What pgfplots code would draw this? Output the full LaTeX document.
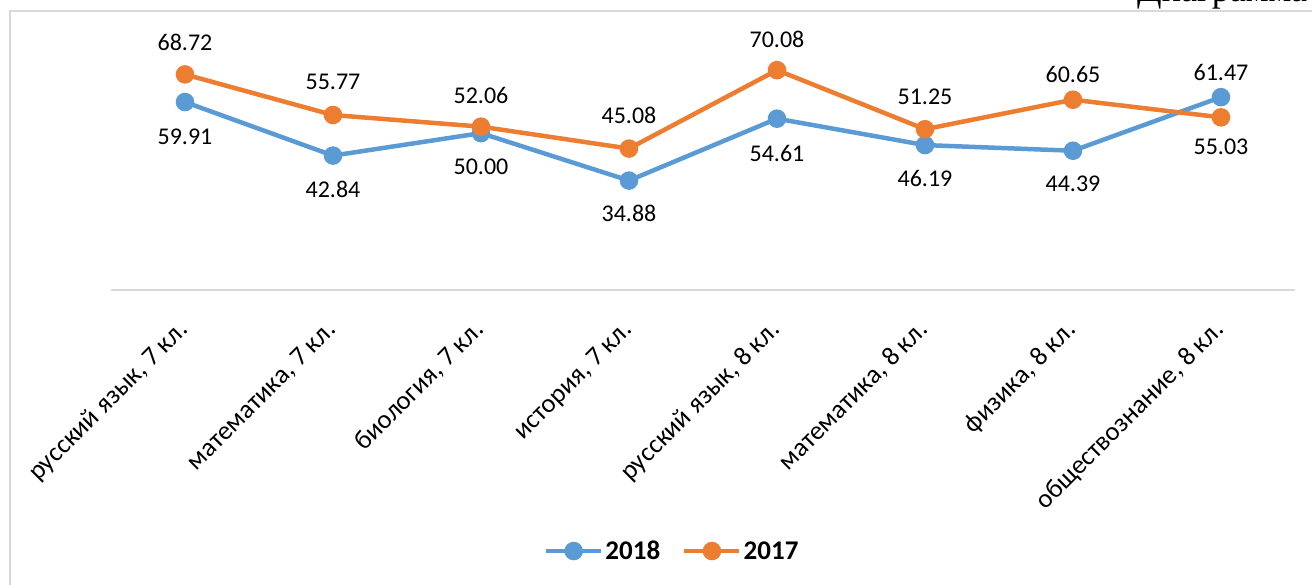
\documentclass[border=0pt]{standalone}
\usepackage{fontspec}
\setmainfont{Carlito}
\newfontfamily\titlefont{Liberation Serif}
\usepackage{pgfplots}
\usepackage{pgfplotstable}
\pgfplotsset{compat=1.18}
\definecolor{sblue}{HTML}{5B9BD5}
\definecolor{sorange}{HTML}{ED7D31}
\definecolor{framegray}{HTML}{D9D9D9}

\pgfplotstableread{
x y lab off
0 59.91 59.91 -35
1 42.84 42.84 -34
2 50.00 50.00 -34
3 34.88 34.88 -33
4 54.61 54.61 -35
5 46.19 46.19 -33
6 44.39 44.39 -33
7 61.47 61.47 25
}\dataA
\pgfplotstableread{
x y lab off
0 68.72 68.72 32
1 55.77 55.77 33
2 52.06 52.06 31
3 45.08 45.08 33
4 70.08 70.08 31
5 51.25 51.25 32
6 60.65 60.65 25
7 55.03 55.03 -29
}\dataB

\begin{document}
\begin{tikzpicture}
\useasboundingbox (0,0) rectangle (1312pt,-585pt);
\clip (0,0) rectangle (1312pt,-585pt);
\draw[framegray, line width=1.5pt] (10pt,-590pt) -- (10pt,-11pt) -- (1320pt,-11pt);
\node[anchor=base west, inner sep=0pt, font=\titlefont\fontsize{36}{40}\selectfont] at (1137pt,-1.5pt) {Диаграмма 1};
\begin{axis}[
  at={(111pt,-290pt)}, anchor=south west,
  scale only axis, width=1184pt, height=251pt,
  xmin=-0.5, xmax=7.5, ymin=0, ymax=80,
  axis y line=none, axis x line=bottom,
  x axis line style={-, draw=framegray, line width=1.5pt},
  ytick=\empty,
  xtick={0,...,7},
  xticklabels={{русский язык, 7 кл.},{математика, 7 кл.},{биология, 7 кл.},{история, 7 кл.},{русский язык, 8 кл.},{математика, 8 кл.},{физика, 8 кл.},{обществознание, 8 кл.}},
  major tick length=0pt,
  xticklabel style={xshift=4pt, yshift=-41pt, rotate=45, anchor=base east, inner sep=0pt, font=\fontsize{26.5}{30}\selectfont},
  clip=false,
  point meta=explicit symbolic,
  nodes near coords,
  visualization depends on={\thisrow{off} \as \off},
  every node near coord/.append style={anchor=center, yshift=\off pt, inner sep=0pt, font=\fontsize{24}{28}\selectfont, text=black},
  legend style={at={(0.474,-1.04)}, anchor=center, draw=none, fill=none,
    legend columns=2, font=\bfseries\fontsize{27}{30}\selectfont,
    /tikz/every even column/.append style={column sep=20pt},
    nodes={inner sep=2pt}},
  legend image code/.code={\draw[#1, mark repeat=2, mark phase=2] plot coordinates {(0pt,0pt) (27.5pt,0pt) (55pt,0pt)};},
]
\addplot[sblue, line width=4.5pt, mark=*, mark size=7pt, mark options={draw=none, fill=sblue}] table[x=x, y=y, meta=lab] {\dataA};
\addlegendentry{2018}
\addplot[sorange, line width=4.5pt, mark=*, mark size=7pt, mark options={draw=none, fill=sorange}] table[x=x, y=y, meta=lab] {\dataB};
\addlegendentry{2017}
\end{axis}
\end{tikzpicture}
\end{document}
